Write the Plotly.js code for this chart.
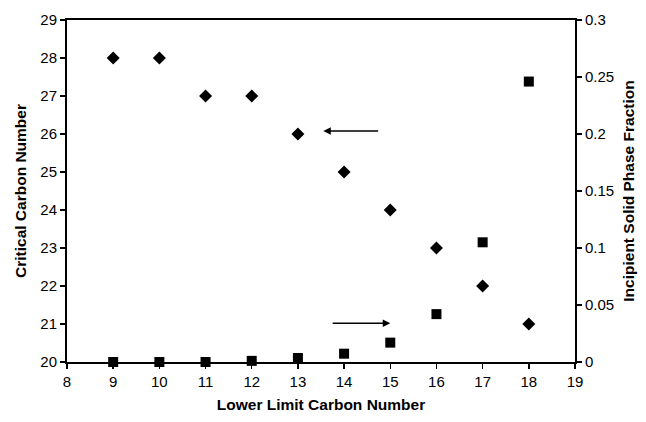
<!DOCTYPE html>
<html>
<head>
<meta charset="utf-8">
<script src="https://cdn.plot.ly/plotly-3.0.1.min.js"></script>
<style>html,body{margin:0;padding:0;background:#fff;}#chart{width:646px;height:422px;}</style>
</head>
<body>
<div id="chart"></div>
<script>
var lowerLimit = [9, 10, 11, 12, 13, 14, 15, 16, 17, 18];
var criticalCarbon = [28, 28, 27, 27, 26, 25, 24, 23, 22, 21];
var solidFraction = [0, 0, 0, 0.001, 0.0035, 0.0073, 0.017, 0.042, 0.105, 0.246];

var traces = [
  {x: lowerLimit, y: criticalCarbon, type: 'scatter', mode: 'markers',
   marker: {symbol: 'diamond', size: 10, color: '#000'}, yaxis: 'y', cliponaxis: false},
  {x: lowerLimit, y: solidFraction, type: 'scatter', mode: 'markers',
   marker: {symbol: 'square', size: 10, color: '#000'}, yaxis: 'y2', cliponaxis: false}
];

var font = {family: 'Liberation Sans, Arial, sans-serif', size: 15, color: '#000'};
var tfont = {family: 'Liberation Sans, Arial, sans-serif', size: 15.5, color: '#000'};
var layout = {
  width: 646, height: 422,
  margin: {l: 67, r: 71, t: 20, b: 60},
  paper_bgcolor: '#fff', plot_bgcolor: '#fff',
  showlegend: false,
  font: font,
  xaxis: {range: [8, 19], dtick: 1, tick0: 8, showgrid: false, zeroline: false,
    showline: true, linecolor: '#000', linewidth: 2, mirror: true,
    ticks: 'outside', ticklen: 5, tickwidth: 1.5, tickcolor: '#000',
    tickfont: font,
    title: {text: '<b>Lower Limit Carbon Number</b>', font: tfont, standoff: 10}},
  yaxis: {range: [20, 29], dtick: 1, showgrid: false, zeroline: false,
    showline: true, linecolor: '#000', linewidth: 2,
    ticks: 'outside', ticklen: 5, tickwidth: 1.5, tickcolor: '#000',
    tickfont: font,
    title: {text: '<b>Critical Carbon Number</b>', font: tfont, standoff: 10}},
  yaxis2: {range: [0, 0.3], dtick: 0.05, overlaying: 'y', side: 'right', showgrid: false, zeroline: false,
    showline: true, linecolor: '#000', linewidth: 2,
    ticks: 'outside', ticklen: 5, tickwidth: 1.5, tickcolor: '#000',
    tickfont: font,
    title: {text: '<b>Incipient Solid Phase Fraction</b>', font: tfont, standoff: 10}},
  annotations: [
    {x: 13.55, y: 26.08, xref: 'x', yref: 'y', ax: 14.77, ay: 26.08, axref: 'x', ayref: 'y',
     showarrow: true, arrowhead: 2, arrowsize: 1, arrowwidth: 1.5, arrowcolor: '#000', text: ''},
    {x: 15.0, y: 21.02, xref: 'x', yref: 'y', ax: 13.72, ay: 21.02, axref: 'x', ayref: 'y',
     showarrow: true, arrowhead: 2, arrowsize: 1, arrowwidth: 1.5, arrowcolor: '#000', text: ''}
  ]
};
Plotly.newPlot('chart', traces, layout, {displayModeBar: false, staticPlot: true});
</script>
</body>
</html>
